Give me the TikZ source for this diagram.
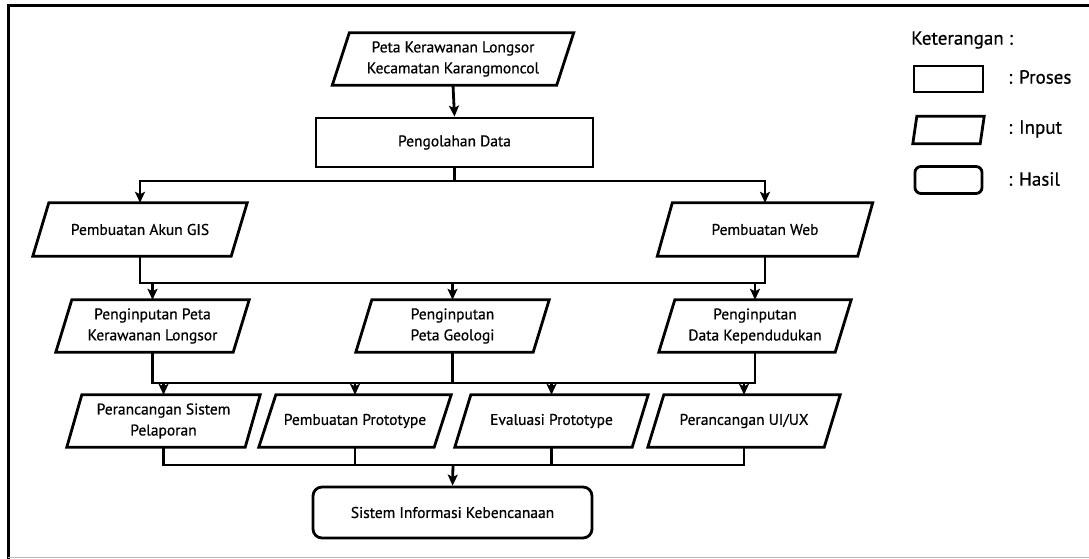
\documentclass[tikz,border=0pt]{standalone}
\usepackage{fontspec}
\setmainfont{PT Sans}[FakeBold=0.6]
\usetikzlibrary{arrows.meta,calc}
\newcommand\parabox[2]{%
  \draw[outl] ([xshift=#2pt]#1.north west) -- ([xshift=#2pt]#1.north east) --
    ([xshift=-#2pt]#1.south east) -- ([xshift=-#2pt]#1.south west) -- cycle;}
\begin{document}
\begin{tikzpicture}[x=1pt,y=-1pt,
  outl/.style={line width=2.8pt, line join=miter},
  lbl/.style={font=\fontsize{15.5}{21}\selectfont, align=center, inner sep=0pt},
  leg/.style={font=\fontsize{19}{22}\selectfont, inner sep=0pt, anchor=west},
  conn/.style={line width=2.8pt},
  arr/.style={line width=2.8pt, -{Stealth[length=11pt,width=10pt,inset=2.5pt]}}]
\useasboundingbox (0,0) rectangle (1089,559);
\fill[white] (0,0) rectangle (1089,559);
% frame
\draw[line width=3pt] (8.5,559) -- (8.5,5.5) -- (1089,5.5);
\draw[gray!55, line width=1.5pt] (8,557.5) -- (1089,557.5);

% nodes
\node[lbl, minimum width=224pt, minimum height=52pt] (in0) at (453,59) {Peta Kerawanan Longsor\\Kecamatan Karangmoncol};
\node[lbl, outl, draw, minimum width=277pt, minimum height=49pt] (proc) at (454.5,142.5) {Pengolahan Data};
\node[lbl, minimum width=198pt, minimum height=53pt] (gis) at (140,229.5) {Pembuatan Akun GIS};
\node[lbl, minimum width=200pt, minimum height=53pt] (web) at (765,229.5) {Pembuatan Web};
\node[lbl, minimum width=177pt, minimum height=52pt] (ker) at (152.5,326) {Penginputan Peta\\Kerawanan Longsor};
\node[lbl, minimum width=177pt, minimum height=52pt] (geo) at (452.5,326) {Penginputan\\Peta Geologi};
\node[lbl, minimum width=176pt, minimum height=52pt] (kep) at (755,326) {Penginputan\\Data Kependudukan};
\node[lbl, minimum width=178pt, minimum height=52pt] (r1) at (163.5,421) {Perancangan Sistem\\Pelaporan};
\node[lbl, minimum width=175pt, minimum height=52pt] (r2) at (355,421) {Pembuatan Prototype};
\node[lbl, minimum width=177pt, minimum height=52pt] (r3) at (551.5,421) {Evaluasi Prototype};
\node[lbl, minimum width=176pt, minimum height=52pt] (r4) at (744,421) {Perancangan UI/UX};
\node[lbl, outl, draw, rounded corners=9pt, minimum width=279pt, minimum height=51pt] (res) at (452.5,512.5) {Sistem Informasi Kebencanaan};

\parabox{in0}{8.5}
\parabox{gis}{8}
\parabox{web}{7.5}
\parabox{ker}{8}
\parabox{geo}{8}
\parabox{kep}{8}
\parabox{r1}{7.5}
\parabox{r2}{8.5}
\parabox{r3}{8}
\parabox{r4}{8}

% junction coordinates
\coordinate (j1) at (454.5,181);
\coordinate (j2) at (0,283);
\coordinate (j3) at (0,383);
\coordinate (j4) at (453,465);

% connectors
\draw[arr] (in0.south) -- (proc.north);
\draw[conn] (proc.south) -- (j1);
\draw[arr] (j1) -| (gis.north);
\draw[arr] (j1) -| (web.north);

\draw[conn] (gis.south) -- (gis.south |- j2) -- (web.south |- j2) -- (web.south);
\draw[arr] (ker.north |- j2) -- (ker.north);
\draw[arr] (geo.north |- j2) -- (geo.north);
\draw[arr] (kep.north |- j2) -- (kep.north);

\draw[conn] (ker.south) -- (ker.south |- j3) -- (kep.south |- j3) -- (kep.south);
\draw[conn] (geo.south) -- (geo.south |- j3);
\draw[arr] (r1.north |- j3) -- (r1.north);
\draw[arr] (r2.north |- j3) -- (r2.north);
\draw[arr] (r3.north |- j3) -- (r3.north);
\draw[arr] (r4.north |- j3) -- (r4.north);

\draw[conn] (r1.south) -- (r1.south |- j4) -- (r4.south |- j4) -- (r4.south);
\draw[conn] (r2.south) -- (r2.south |- j4);
\draw[conn] (r3.south) -- (r3.south |- j4);
\draw[arr] (j4) -- (res.north);

% legend
\node[leg] (ket) at (911,40) {Keterangan :};
\node[outl, draw, minimum width=69pt, minimum height=26pt, inner sep=0pt] (lproc) at (948.5,79) {};
\node[minimum width=67pt, minimum height=27pt, inner sep=0pt] (linp) at (948.5,130) {};
\parabox{linp}{2}
\node[outl, draw, rounded corners=6pt, minimum width=67pt, minimum height=27pt, inner sep=0pt] (lres) at (948.5,180) {};
\node[leg] (tproc) at (1008,77) {: Proses};
\node[leg] (tinp) at (1008,129) {: Input};
\node[leg] (tres) at (1008,179) {: Hasil};
\end{tikzpicture}
\end{document}
